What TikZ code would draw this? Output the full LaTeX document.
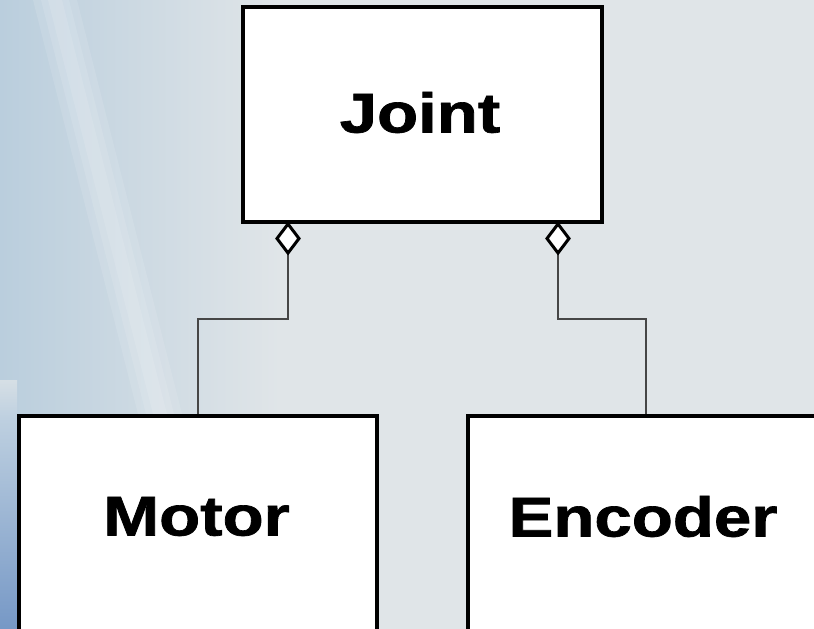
\documentclass[tikz,border=0pt]{standalone}
\usepackage{fontspec}
\setmainfont{Liberation Sans}
\newfontfamily\heavysans[FakeBold=1.2]{Liberation Sans Bold}

\definecolor{bgbase}{RGB}{224,229,232}
\definecolor{bgleft}{RGB}{186,206,221}
\definecolor{bgmid}{RGB}{214,223,229}
\definecolor{stripA}{RGB}{190,208,224}
\definecolor{stripB}{RGB}{118,152,198}
\definecolor{wire}{RGB}{70,70,70}

\begin{document}
\begin{tikzpicture}[x=1pt,y=-1pt,
  classbox/.style={draw=black,line width=3.5pt,fill=white,inner sep=0pt},
  classname/.style={font=\heavysans\fontsize{56}{62}\selectfont,inner sep=0pt},
  wireline/.style={draw=wire,line width=1.1pt},
  aggrmark/.style={draw=black,fill=white,line width=3pt,line join=miter}
]
% backdrop
\useasboundingbox (0,0) rectangle (814,629);
\fill[bgbase] (0,0) rectangle (814,629);
\shade[left color=bgleft,right color=bgbase] (0,0) rectangle (280,629);
% soft diagonal light streak
\foreach \w in {22,14,7}{
  \fill[white,opacity=0.11] ({55-\w},0) -- ({55+\w},0) -- ({160+\w},414) -- ({160-\w},414) -- cycle;
}
\shade[top color=bgmid,bottom color=stripA] (0,380) rectangle (17,418);
\shade[top color=stripA,bottom color=stripB] (0,418) rectangle (17,629);

% classes
\node[classbox,minimum width=359pt,minimum height=215pt] (joint) at (422.5,114.5) {};
\node[classname] (jointname) at (420,112.5) {\scalebox{1.2}[1]{Joint}};

\node[classbox,anchor=north west,minimum width=358pt,minimum height=260pt] (motor) at (17,414) {};
\node[classname] (motorname) at (196.5,516.5) {\scalebox{1.2}[1]{Motor}};

\node[classbox,anchor=north west,minimum width=360pt,minimum height=260pt] (encoder) at (466,414) {};
\node[classname] (encodername) at (643,516.5) {\scalebox{1.2}[1]{Encoder}};

% aggregation connectors: hollow diamond on the Joint side
\coordinate (jm) at (288,224);
\coordinate (je) at (558,224);
\coordinate (jmend) at (288,253);
\coordinate (jeend) at (558,253);
\coordinate (mt) at (198,414);
\coordinate (et) at (646,414);
\draw[wireline] (jmend) -- (jmend |- 0,319) -| (mt);
\draw[wireline] (jeend) -- (jeend |- 0,319) -| (et);
\draw[aggrmark] (jm) -- ++(11,14.5) -- ++(-11,14.5) -- ++(-11,-14.5) -- cycle;
\draw[aggrmark] (je) -- ++(11,14.5) -- ++(-11,14.5) -- ++(-11,-14.5) -- cycle;
\end{tikzpicture}
\end{document}
